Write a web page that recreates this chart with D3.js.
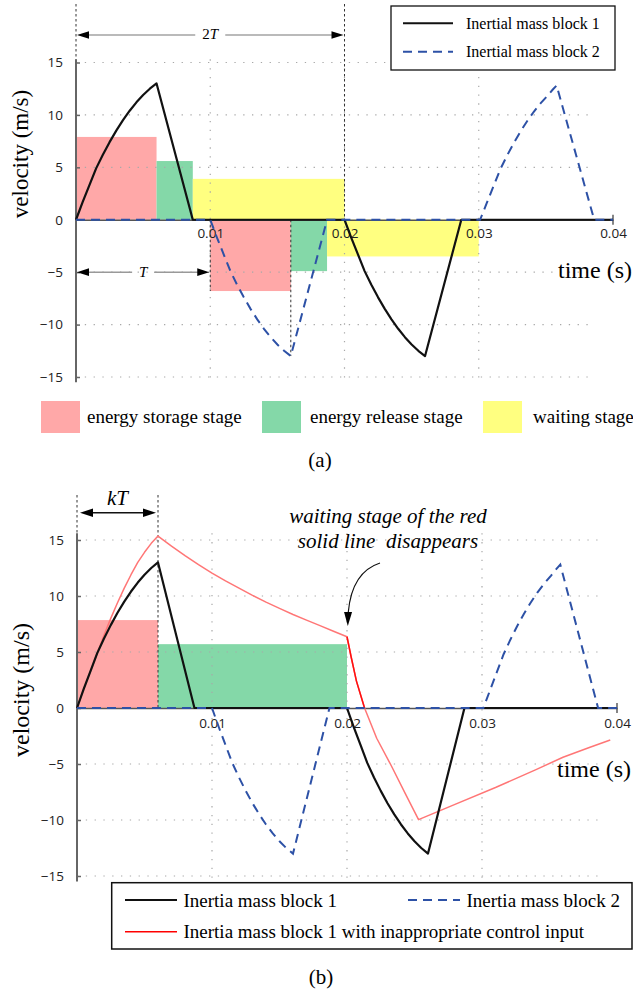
<!DOCTYPE html>
<html>
<head>
<meta charset="utf-8">
<script src="https://cdn.jsdelivr.net/npm/d3@7"></script>
<style>
  body { margin: 0; background: #fff; }
  svg { display: block; }
  .serif { font-family: "Liberation Serif", "Times New Roman", serif; }
  .tick text { font-family: "Open Sans", "Liberation Sans", sans-serif; font-size: 13.5px; fill: #222; }
</style>
</head>
<body>
<svg id="chart" width="633" height="990"></svg>
<script>
// ---- sampled velocities (time in s, velocity in m/s) ----
const block1Time = [0, 0.0005, 0.001, 0.0015, 0.002, 0.0025, 0.003, 0.0035, 0.004, 0.0045, 0.005, 0.0055, 0.006,
                    0.0087, 0.02,
                    0.0205, 0.021, 0.0215, 0.022, 0.0225, 0.023, 0.0235, 0.024, 0.0245, 0.025, 0.0255, 0.026,
                    0.0287, 0.04];
const block1Vel  = [0, 1.7, 3.3, 4.9, 6.2, 7.4, 8.5, 9.5, 10.4, 11.2, 11.9, 12.5, 13.0,
                    0, 0,
                    -1.7, -3.3, -4.9, -6.2, -7.4, -8.5, -9.5, -10.4, -11.2, -11.9, -12.5, -13.0,
                    0, 0];

const block2Time = [0, 0.01,
                    0.0105, 0.011, 0.0115, 0.012, 0.0125, 0.013, 0.0135, 0.014, 0.0145, 0.015, 0.0155, 0.016,
                    0.0187, 0.0301,
                    0.0306, 0.0311, 0.0316, 0.0321, 0.0326, 0.0331, 0.0336, 0.0341, 0.0346, 0.0351, 0.0355, 0.0358,
                    0.0386, 0.04];
const block2Vel  = [0, 0,
                    -1.7, -3.3, -4.9, -6.2, -7.4, -8.5, -9.5, -10.4, -11.2, -11.9, -12.5, -13.0,
                    0, 0,
                    1.6, 3.2, 4.8, 6.1, 7.3, 8.4, 9.4, 10.3, 11.1, 11.8, 12.4, 12.8,
                    0, 0];

// block 1 driven with the inappropriate control input
const badTime = [0, 0.0005, 0.001, 0.0015, 0.002, 0.0025, 0.003, 0.0035, 0.004, 0.0045, 0.005, 0.0055, 0.006,
                 0.007, 0.008, 0.009, 0.010, 0.011, 0.012, 0.013, 0.014, 0.015, 0.016, 0.017, 0.018, 0.019, 0.020,
                 0.0203, 0.0207, 0.0213, 0.0222, 0.0233, 0.0243, 0.0253,
                 0.028, 0.031, 0.034, 0.036, 0.038, 0.0395];
const badVel  = [0, 1.7, 3.3, 4.9, 6.5, 8.0, 9.4, 10.7, 11.9, 13.0, 13.9, 14.7, 15.35,
                 14.45, 13.6, 12.8, 12.05, 11.35, 10.7, 10.05, 9.45, 8.9, 8.35, 7.85, 7.35, 6.85, 6.36,
                 4.6, 2.4, 0, -2.7, -5.2, -7.6, -9.97,
                 -8.6, -7.1, -5.5, -4.4, -3.5, -2.85];

// stage bands: [start time, end time, height in m/s]
const storageA = [[0, 0.006, 7.9], [0.01, 0.016, -6.8]];
const releaseA = [[0.006, 0.0087, 5.6], [0.016, 0.0187, -4.9]];
const waitingA = [[0.0087, 0.02, 3.9], [0.0187, 0.03, -3.5]];
const storageB = [[0, 0.006, 7.85]];
const releaseB = [[0.006, 0.02, 5.7]];

const yTicks = [-15, -10, -5, 0, 5, 10, 15];
const xTicks = [0.01, 0.02, 0.03, 0.04];
const xGrid = [0.01, 0.02, 0.03];
const yGrid = [-15, -10, -5, 5, 10, 15];

const stageNames = ["energy storage stage", "energy release stage", "waiting stage"];
const legendA = ["Inertial mass block 1", "Inertial mass block 2"];
const legendB = ["Inertia mass block 1", "Inertia mass block 2",
                 "Inertia mass block 1 with inappropriate control input"];

// ---- styles ----
const C = {
  storage: "#ffa8a8", release: "#84d8a8", waiting: "#ffff80",
  black: "#111", blue: "#2d51a6", red: "#ff7676", redDark: "#ff1010", grid: "#a8a8a8", axis: "#666"
};
const SERIF = '"Liberation Serif", "Times New Roman", serif';

const svg = d3.select("#chart");

function arrowHead(g, tipX, tipY, angle, len, half, color) {
  const bx = tipX - len * Math.cos(angle), by = tipY - len * Math.sin(angle);
  const px = -Math.sin(angle) * half, py = Math.cos(angle) * half;
  g.append("path")
    .attr("d", `M${tipX},${tipY}L${bx + px},${by + py}L${bx - px},${by - py}Z`)
    .attr("fill", color || "#000");
}

function drawPanel(cfg) {
  const x = d3.scaleLinear().domain([0, 0.04]).range([cfg.left, cfg.right]);
  const y = d3.scaleLinear().domain([-15, 15]).range([cfg.bottom, cfg.top]);
  const g = svg.append("g");

  // stage bands
  cfg.stages.forEach(([rows, color]) => {
    g.selectAll(null).data(rows).join("rect")
      .attr("x", d => x(d[0]))
      .attr("width", d => x(d[1]) - x(d[0]))
      .attr("y", d => y(Math.max(0, d[2])))
      .attr("height", d => Math.abs(y(d[2]) - y(0)))
      .attr("fill", color);
  });

  // dotted grid
  g.selectAll(null).data(yGrid).join("line")
    .attr("x1", x(0)).attr("x2", x(0.0386))
    .attr("y1", d => y(d)).attr("y2", d => y(d))
    .attr("stroke", C.grid).attr("stroke-width", 1.2).attr("stroke-dasharray", "1.3,7.5");
  g.selectAll(null).data(xGrid).join("line")
    .attr("x1", d => x(d)).attr("x2", d => x(d))
    .attr("y1", y(cfg.gridTop)).attr("y2", y(-15.4))
    .attr("stroke", C.grid).attr("stroke-width", 1.2).attr("stroke-dasharray", "1.3,7.5");

  // y axis
  const ya = g.append("g").attr("transform", `translate(${x(0)},0)`)
    .call(d3.axisLeft(y).tickValues(yTicks).tickSizeInner(-4).tickSizeOuter(0).tickPadding(13));
  ya.select(".domain").attr("d", `M0,${y(cfg.axisTop)}V${y(-15.5)}`)
    .attr("stroke", C.axis).attr("stroke-width", 2);
  ya.selectAll(".tick line").attr("stroke", C.axis).attr("stroke-width", 1.5);

  // x axis along v = 0
  const xa = g.append("g").attr("transform", `translate(0,${y(0)})`)
    .call(d3.axisBottom(x).tickValues(xTicks).tickFormat(d3.format(".2f"))
      .tickSize(0).tickPadding(cfg.xPad));
  xa.select(".domain").attr("stroke", "#555").attr("stroke-width", 1.3);
  g.append("line").attr("x1", x(0.04)).attr("x2", x(0.04))
    .attr("y1", y(0) - 5).attr("y2", y(0) + 5).attr("stroke", "#444").attr("stroke-width", 1.3);

  const line = d3.line().x(d => x(d[0])).y(d => y(d[1]));
  return { g, x, y, line };
}

// ================= panel (a) =================
const A = drawPanel({
  left: 76, right: 613, top: 62.5, bottom: 377, gridTop: 15.3, axisTop: 15.3, xPad: 9,
  stages: [[storageA, C.storage], [releaseA, C.release], [waitingA, C.waiting]]
});

// reference dashes and period arrows
const dashStyle = sel => sel.attr("stroke", "#333").attr("stroke-width", 1).attr("stroke-dasharray", "2.5,2.5");
A.g.append("line").attr("x1", A.x(0)).attr("x2", A.x(0)).attr("y1", 4).attr("y2", A.y(15.3)).call(dashStyle);
A.g.append("line").attr("x1", A.x(0.02)).attr("x2", A.x(0.02)).attr("y1", 4).attr("y2", A.y(0)).call(dashStyle);
A.g.append("line").attr("x1", A.x(0.01)).attr("x2", A.x(0.01)).attr("y1", A.y(0)).attr("y2", A.y(-6.8)).call(dashStyle);
A.g.append("line").attr("x1", A.x(0.016)).attr("x2", A.x(0.016)).attr("y1", A.y(0)).attr("y2", A.y(-13)).call(dashStyle);

{
  const ay = 35, xm = (A.x(0) + A.x(0.02)) / 2;
  A.g.append("line").attr("x1", A.x(0) + 8).attr("x2", xm - 15).attr("y1", ay).attr("y2", ay)
    .attr("stroke", "#777").attr("stroke-width", 1.2);
  A.g.append("line").attr("x1", xm + 15).attr("x2", A.x(0.02) - 8).attr("y1", ay).attr("y2", ay)
    .attr("stroke", "#777").attr("stroke-width", 1.2);
  arrowHead(A.g, A.x(0) + 1, ay, Math.PI, 12, 3.8);
  arrowHead(A.g, A.x(0.02) - 1, ay, 0, 12, 3.8);
  const t = A.g.append("text").attr("x", xm).attr("y", ay + 4).attr("text-anchor", "middle")
    .attr("font-family", SERIF).attr("font-size", 15);
  t.append("tspan").text("2");
  t.append("tspan").attr("font-style", "italic").text("T");
}
{
  const ay = A.y(-5), xm = (A.x(0) + A.x(0.01)) / 2;
  A.g.append("line").attr("x1", A.x(0) + 8).attr("x2", xm - 11).attr("y1", ay).attr("y2", ay)
    .attr("stroke", "#999").attr("stroke-width", 1.5);
  A.g.append("line").attr("x1", xm + 11).attr("x2", A.x(0.01) - 8).attr("y1", ay).attr("y2", ay)
    .attr("stroke", "#999").attr("stroke-width", 1.5);
  arrowHead(A.g, A.x(0) + 1, ay, Math.PI, 12, 3.8);
  arrowHead(A.g, A.x(0.01) - 1, ay, 0, 12, 3.8);
  A.g.append("text").attr("x", xm).attr("y", ay + 5).attr("text-anchor", "middle")
    .attr("font-family", SERIF).attr("font-size", 15).attr("font-style", "italic").text("T");
}

A.g.append("path").datum(d3.zip(block1Time, block1Vel)).attr("d", A.line)
  .attr("fill", "none").attr("stroke", C.black).attr("stroke-width", 2.2).attr("stroke-linejoin", "round");
A.g.append("path").datum(d3.zip(block2Time, block2Vel)).attr("d", A.line)
  .attr("fill", "none").attr("stroke", C.blue).attr("stroke-width", 2).attr("stroke-dasharray", "9,6");

// axis titles
svg.append("text").attr("class", "serif").attr("transform", "translate(28,154) rotate(-90)")
  .attr("text-anchor", "middle").attr("font-size", 23).text("velocity (m/s)");
svg.append("text").attr("class", "serif").attr("x", 558).attr("y", 278)
  .attr("font-size", 24).text("time (s)");

// legend of the two blocks
{
  const lg = svg.append("g");
  lg.append("rect").attr("x", 391).attr("y", 6).attr("width", 224).attr("height", 64)
    .attr("fill", "#fff").attr("stroke", "#111").attr("stroke-width", 1.3);
  [[C.black, null, 23.3], [C.blue, "9,6", 51.7]].forEach(([c, dash, ly], i) => {
    lg.append("line").attr("x1", 403).attr("x2", 453).attr("y1", ly).attr("y2", ly)
      .attr("stroke", c).attr("stroke-width", 2).attr("stroke-dasharray", dash);
    lg.append("text").attr("class", "serif").attr("x", 466).attr("y", ly + 5.3)
      .attr("font-size", 16).text(legendA[i]);
  });
}
// legend of the stages
{
  const sg = svg.append("g");
  [[41, C.storage, 87], [262, C.release, 310], [483, C.waiting, 533]].forEach(([sx, c, tx], i) => {
    sg.append("rect").attr("x", sx).attr("y", 401).attr("width", 39).attr("height", 32).attr("fill", c);
    sg.append("text").attr("class", "serif").attr("x", tx).attr("y", 423)
      .attr("font-size", 19).text(stageNames[i]);
  });
}
svg.append("text").attr("class", "serif").attr("x", 320).attr("y", 467)
  .attr("text-anchor", "middle").attr("font-size", 21).text("(a)");

// ================= panel (b) =================
const B = drawPanel({
  left: 77, right: 617, top: 540, bottom: 876, gridTop: 15.6, axisTop: 15.6, xPad: 10,
  stages: [[storageB, C.storage], [releaseB, C.release]]
});

B.g.append("line").attr("x1", B.x(0)).attr("x2", B.x(0)).attr("y1", 495).attr("y2", B.y(15.6)).call(dashStyle);
B.g.append("line").attr("x1", B.x(0.006)).attr("x2", B.x(0.006)).attr("y1", 495).attr("y2", B.y(0)).call(dashStyle);
{
  const ay = 512.7;
  B.g.append("line").attr("x1", B.x(0) + 8).attr("x2", B.x(0.006) - 8).attr("y1", ay).attr("y2", ay)
    .attr("stroke", "#111").attr("stroke-width", 1.5);
  arrowHead(B.g, B.x(0) + 3, ay, Math.PI, 13, 4.2);
  arrowHead(B.g, B.x(0.006) - 2, ay, 0, 13, 4.2);
  B.g.append("text").attr("x", (B.x(0) + B.x(0.006)) / 2).attr("y", 505).attr("text-anchor", "middle")
    .attr("font-family", SERIF).attr("font-size", 21).attr("font-style", "italic").text("kT");
}

// inappropriate-input response; its steep fall after 0.02 s is drawn in a stronger red
const badPts = d3.zip(badTime, badVel);
B.g.append("path").datum(badPts).attr("d", B.line)
  .attr("fill", "none").attr("stroke", C.red).attr("stroke-width", 1.5).attr("stroke-linejoin", "round");
B.g.append("path").datum(badPts.filter(d => d[0] >= 0.02 && d[0] <= 0.0213)).attr("d", B.line)
  .attr("fill", "none").attr("stroke", C.redDark).attr("stroke-width", 1.5);
B.g.append("path").datum(d3.zip(block1Time, block1Vel)).attr("d", B.line)
  .attr("fill", "none").attr("stroke", C.black).attr("stroke-width", 2.2).attr("stroke-linejoin", "round");
B.g.append("path").datum(d3.zip(block2Time, block2Vel)).attr("d", B.line)
  .attr("fill", "none").attr("stroke", C.blue).attr("stroke-width", 2).attr("stroke-dasharray", "9,6");

// note on the vanished waiting stage
{
  const note = svg.append("text").attr("class", "serif").attr("font-size", 21)
    .attr("font-style", "italic").attr("text-anchor", "middle").style("white-space", "pre");
  note.append("tspan").attr("x", 388).attr("y", 523).text("waiting stage of the red");
  note.append("tspan").attr("x", 388).attr("y", 548).text("solid line  disappears");
  svg.append("path").attr("d", "M380,563 Q352,572 348.3,612")
    .attr("fill", "none").attr("stroke", "#111").attr("stroke-width", 1.2);
  arrowHead(svg, 347.8, 626, Math.PI / 2 + 0.02, 14, 4);
}

svg.append("text").attr("class", "serif").attr("transform", "translate(29,690) rotate(-90)")
  .attr("text-anchor", "middle").attr("font-size", 24).text("velocity (m/s)");
svg.append("text").attr("class", "serif").attr("x", 557).attr("y", 777)
  .attr("font-size", 24).text("time (s)");

{
  const lg = svg.append("g");
  lg.append("rect").attr("x", 111.7).attr("y", 882.7).attr("width", 520.3).attr("height", 66.3)
    .attr("fill", "#fff").attr("stroke", "#111").attr("stroke-width", 1.5);
  [[125, 900, C.black, null, 2.2, 0], [408, 900, C.blue, "9,6", 2, 1], [125, 931.7, "#ff0000", null, 1.5, 2]]
    .forEach(([lx, ly, c, dash, w, i]) => {
      lg.append("line").attr("x1", lx).attr("x2", lx + 52).attr("y1", ly).attr("y2", ly)
        .attr("stroke", c).attr("stroke-width", w).attr("stroke-dasharray", dash);
      lg.append("text").attr("class", "serif").attr("x", lx + 58.5).attr("y", ly + 6.5)
        .attr("font-size", 19).text(legendB[i]);
    });
}
svg.append("text").attr("class", "serif").attr("x", 321).attr("y", 984)
  .attr("text-anchor", "middle").attr("font-size", 21).text("(b)");
</script>
</body>
</html>
